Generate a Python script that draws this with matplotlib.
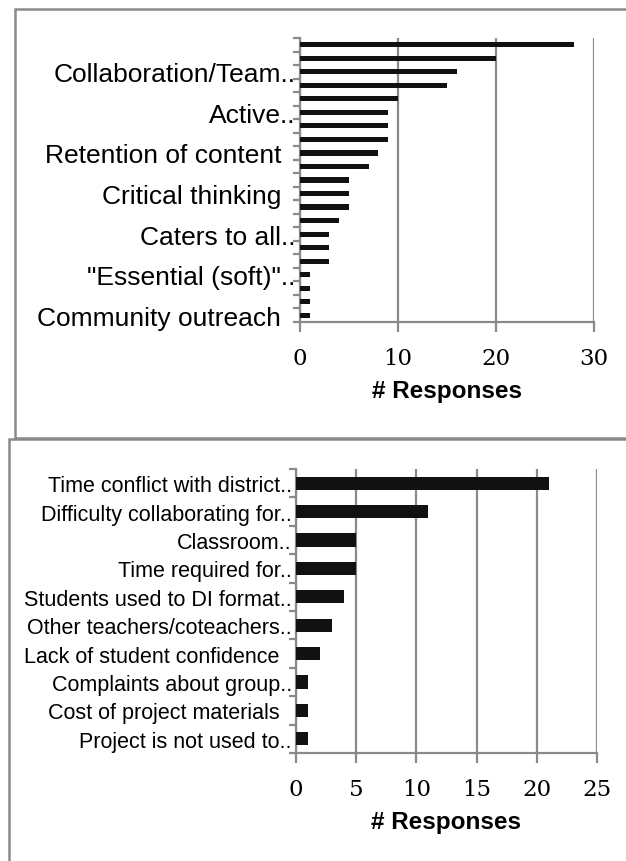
import numpy as np
import matplotlib.pyplot as plt
from matplotlib.patches import Rectangle

# top chart: benefits, listed top to bottom (only every 3rd label is shown)
benefit_labels = ['', '', 'Collaboration/Team..', '', '', 'Active..', '', '',
                  'Retention of content', '', '', 'Critical thinking', '', '',
                  'Caters to all..', '', '', '"Essential (soft)"..', '', '',
                  'Community outreach']
benefit_counts = [28, 20, 16, 15, 10, 9, 9, 9, 8, 7, 5, 5, 5, 4, 3, 3, 3, 1, 1, 1, 1]
benefit_ticks = [0, 10, 20, 30]

# bottom chart: challenges, top to bottom
challenge_labels = ['Time conflict with district..', 'Difficulty collaborating for..',
                    'Classroom..', 'Time required for..', 'Students used to DI format..',
                    'Other teachers/coteachers..', 'Lack of student confidence',
                    'Complaints about group..', 'Cost of project materials',
                    'Project is not used to..']
challenge_counts = [21, 11, 5, 5, 4, 3, 2, 1, 1, 1]
challenge_ticks = [0, 5, 10, 15, 20, 25]

GRAY = '#8a8a8a'
W, H = 626, 862

fig = plt.figure(figsize=(W / 100, H / 100), dpi=100)


def px_box(l, t, r, b):
    # pixel box -> figure fraction rect
    return [l / W, 1 - b / H, (r - l) / W, (b - t) / H]


def bar_panel(rect, labels, counts, ticks, bar_h, label_size):
    ax = fig.add_axes(rect)
    n = len(counts)
    y = np.arange(n)
    ax.barh(y, counts, height=bar_h, color='#111111', zorder=3)
    ax.set_ylim(n - 0.5, -0.5)
    ax.set_xlim(ticks[0], ticks[-1])
    ax.set_xticks(ticks)
    ax.set_xticklabels([str(t) for t in ticks], family='DejaVu Serif', fontsize=16.5)
    ax.xaxis.grid(True, color=GRAY, lw=1.6, zorder=0)
    ax.tick_params(axis='x', length=7, width=1.6, color=GRAY, pad=11)

    # category labels at bar centres, tick marks on the boundaries
    shown = [i for i in range(n) if labels[i]]
    ax.set_yticks(shown)
    ax.set_yticklabels([labels[i] if labels[i].endswith('..') else labels[i] + '  '
                        for i in shown],
                       family='Liberation Sans', fontsize=label_size)
    ax.set_yticks(np.arange(n + 1) - 0.5, minor=True)
    ax.tick_params(axis='y', which='major', length=0, pad=3)
    ax.tick_params(axis='y', which='minor', length=5, width=1.6, color=GRAY)

    for s in ['top', 'right']:
        ax.spines[s].set_visible(False)
    for s in ['left', 'bottom']:
        ax.spines[s].set_color(GRAY)
        ax.spines[s].set_linewidth(1.6)
    ax.set_xlabel('# Responses', family='Liberation Sans', fontweight='bold',
                  fontsize=17.5, labelpad=7)
    return ax


bar_panel(px_box(300, 39, 594, 323), benefit_labels, benefit_counts,
          benefit_ticks, 0.38, 19)
bar_panel(px_box(296, 470, 597, 754), challenge_labels, challenge_counts,
          challenge_ticks, 0.47, 15.5)

# the two framed boxes around the charts
fig.add_artist(Rectangle((15 / W, 1 - 439 / H), 700 / W, 429 / H, transform=fig.transFigure,
                         fill=False, ec=GRAY, lw=1.8))
fig.add_artist(Rectangle((9 / W, -0.05), 700 / W, 1 - 440 / H + 0.05, transform=fig.transFigure,
                         fill=False, ec=GRAY, lw=1.8))

fig.savefig('out.png', dpi=100)
